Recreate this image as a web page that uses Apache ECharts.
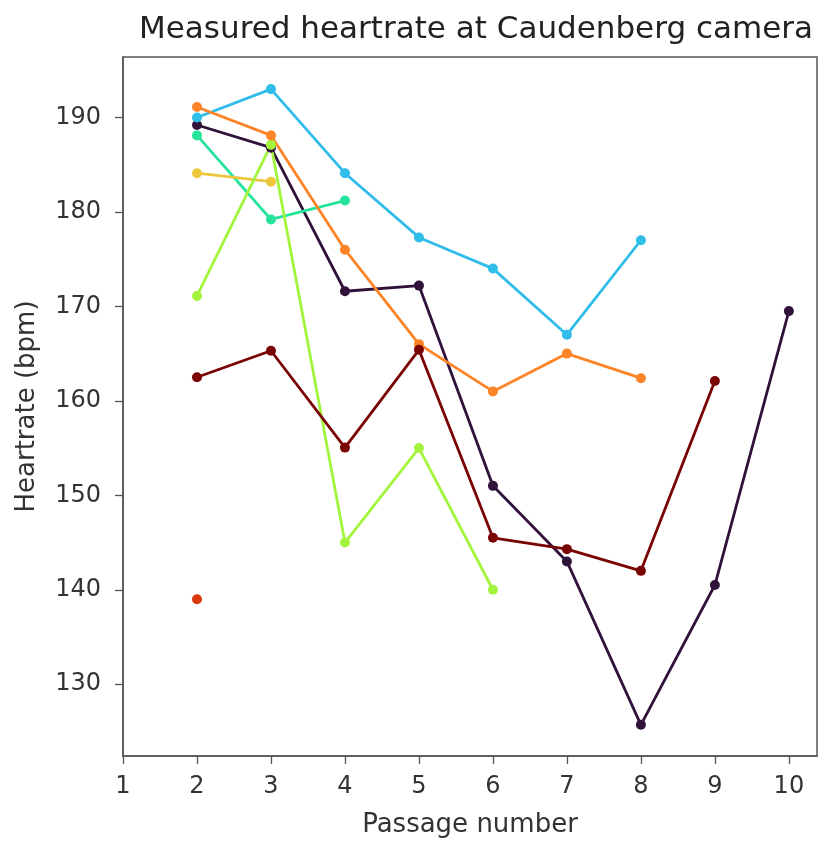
<!DOCTYPE html>
<html><head><meta charset="utf-8">
<script src="https://cdn.jsdelivr.net/npm/echarts@6/dist/echarts.min.js"></script>
<style>html,body{margin:0;padding:0;background:#fff}#c{width:819px;height:843px}</style>
</head><body><div id="c"></div>
<script>
const xTicks = [1,2,3,4,5,6,7,8,9,10];
const yTicks = [130,140,150,160,170,180,190];
const sPurpleX = [2,3,4,5,6,7,8,9,10];
const sPurpleY = [189.2,186.8,171.6,172.2,151,143,125.7,140.5,169.5];
const sBlueX = [2,3,4,5,6,7,8];
const sBlueY = [190,193,184.1,177.3,174,167,177];
const sTealX = [2,3,4];
const sTealY = [188.1,179.2,181.2];
const sYellowX = [2,3];
const sYellowY = [184.1,183.2];
const sLimeX = [2,3,4,5,6];
const sLimeY = [171.1,187.1,145,155,140];
const sOrangeX = [2,3,4,5,6,7,8];
const sOrangeY = [191.1,188.1,176,166,161,165,162.4];
const sRedX = [2];
const sRedY = [139];
const sDarkRedX = [2,3,4,5,6,7,8,9];
const sDarkRedY = [162.5,165.3,155.05,165.4,145.5,144.3,142,162.1];

const seriesDefs = [
  {x:sPurpleX,y:sPurpleY,c:'#30123b'},
  {x:sBlueX,y:sBlueY,c:'#30bdea'},
  {x:sTealX,y:sTealY,c:'#26e49c'},
  {x:sYellowX,y:sYellowY,c:'#ecc63b'},
  {x:sLimeX,y:sLimeY,c:'#a2f53c'},
  {x:sOrangeX,y:sOrangeY,c:'#fd8427'},
  {x:sRedX,y:sRedY,c:'#d9390c'},
  {x:sDarkRedX,y:sDarkRedY,c:'#7a0403'}
];
const font = 'DejaVu Sans';
const chart = echarts.init(document.getElementById('c'), null, {renderer:'canvas'});
chart.setOption({
  animation:false,
  title:{text:'Measured heartrate at Caudenberg camera',left:471,top:9,textAlign:'center',
    textStyle:{fontFamily:font,fontSize:31,fontWeight:'normal',color:'#222'}},
  grid:{left:123,right:2,top:57,bottom:83,show:true,borderColor:'#555',borderWidth:1.5,backgroundColor:'transparent'},
  xAxis:{type:'value',min:1,max:10.38,name:'Passage number',nameLocation:'middle',nameGap:56,
    nameTextStyle:{fontFamily:font,fontSize:26,color:'#333'},
    axisLine:{show:true,lineStyle:{color:'#555',width:1.5}},
    axisTick:{show:true,length:8,inside:false,lineStyle:{color:'#555',width:1.3},customValues:xTicks},
    axisLabel:{fontFamily:font,fontSize:24,color:'#333',margin:19,customValues:xTicks},
    splitLine:{show:false}},
  yAxis:{type:'value',min:122.4,max:196.4,name:'Heartrate (bpm)',nameLocation:'middle',nameGap:83,
    nameTextStyle:{fontFamily:font,fontSize:26,color:'#333'},
    axisLine:{show:true,lineStyle:{color:'#555',width:1.5}},
    axisTick:{show:true,length:8,inside:false,lineStyle:{color:'#555',width:1.3},customValues:yTicks},
    axisLabel:{fontFamily:font,fontSize:24,color:'#333',margin:22,customValues:yTicks},
    splitLine:{show:false}},
  series: seriesDefs.map(s=>({
    type:'line',
    data:s.x.map((v,i)=>[v,s.y[i]]),
    symbol:'circle',symbolSize:10,showSymbol:true,
    lineStyle:{color:s.c,width:2.8},
    itemStyle:{color:s.c},
    emphasis:{disabled:true}
  }))
});
</script></body></html>
